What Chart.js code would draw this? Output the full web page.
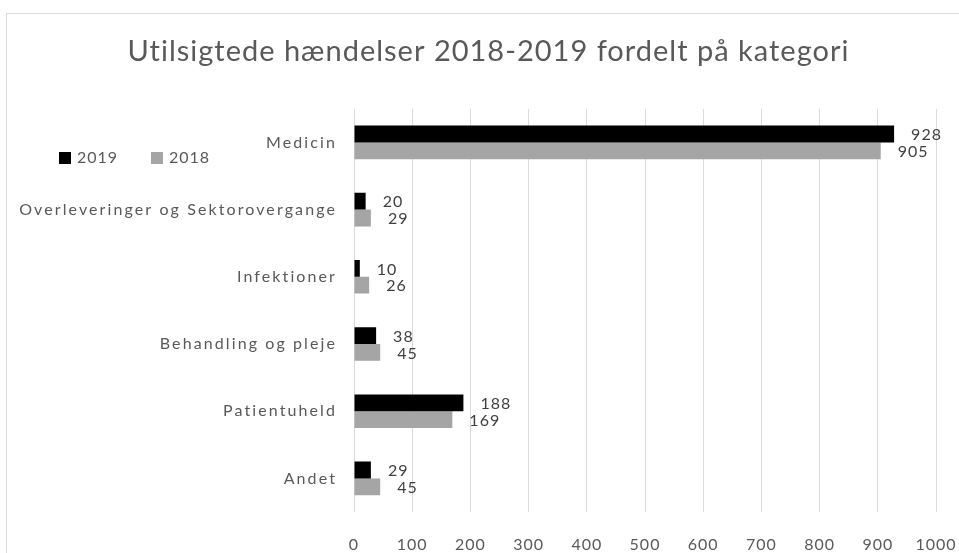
<!DOCTYPE html>
<html>
<head>
<meta charset="utf-8">
<script src="https://cdn.jsdelivr.net/npm/chart.js@4"></script>
<style>
  body { margin: 0; background: #fff; }
  #wrap { width: 959px; height: 553px; position: relative; }
</style>
</head>
<body>
<div id="wrap"><canvas id="kategoriChart" width="959" height="553"></canvas></div>
<script>
// data
const kategorier = ["Medicin", "Overleveringer og Sektorovergange", "Infektioner", "Behandling og pleje", "Patientuheld", "Andet"];
const vaerdier2019 = [928, 20, 10, 38, 188, 29];
const vaerdier2018 = [905, 29, 26, 45, 169, 45];
const xTicks = [0, 100, 200, 300, 400, 500, 600, 700, 800, 900, 1000];

const tekstFarve = "#595959";

// letter spacing like the Excel rendering
const spacing = {
  id: "spacing",
  beforeUpdate(chart) { chart.ctx.letterSpacing = "1px"; },
  beforeDraw(chart) {
    const ctx = chart.ctx;
    ctx.letterSpacing = "1px";
    // frame of the chart object
    ctx.save();
    ctx.strokeStyle = "#d9d9d9";
    ctx.lineWidth = 1;
    ctx.strokeRect(6.5, 13.5, 1000, 600);
    ctx.restore();
  }
};

// value labels at the end of each bar
const barLabels = {
  id: "barLabels",
  afterDatasetsDraw(chart) {
    const ctx = chart.ctx;
    ctx.save();
    ctx.letterSpacing = "1px";
    ctx.font = "16px Lato";
    ctx.fillStyle = "#404040";
    ctx.textAlign = "left";
    ctx.textBaseline = "middle";
    chart.data.datasets.forEach((ds, i) => {
      chart.getDatasetMeta(i).data.forEach((bar, j) => {
        ctx.fillText(ds.data[j], bar.x + 17, bar.y + 1);
      });
    });
    ctx.restore();
  }
};

// legend at the left, like the original
const venstreLegend = {
  id: "venstreLegend",
  afterDraw(chart) {
    const ctx = chart.ctx;
    ctx.save();
    ctx.letterSpacing = "1px";
    ctx.font = "16px Lato";
    ctx.textBaseline = "middle";
    ctx.textAlign = "left";
    const pos = [59, 151];
    chart.data.datasets.forEach((ds, i) => {
      ctx.fillStyle = ds.backgroundColor;
      ctx.fillRect(pos[i], 152, 12, 12);
      ctx.fillStyle = tekstFarve;
      ctx.fillText(ds.label, pos[i] + 18, 158);
    });
    ctx.restore();
  }
};

// wider spacing for the category names
const yLabels = {
  id: "yLabels",
  afterDraw(chart) {
    const ctx = chart.ctx;
    const y = chart.scales.y;
    ctx.save();
    ctx.letterSpacing = "2.1px";
    ctx.font = "16px Lato";
    ctx.fillStyle = tekstFarve;
    ctx.textAlign = "right";
    ctx.textBaseline = "middle";
    kategorier.forEach((k, i) => {
      ctx.fillText(k, chart.chartArea.left - 17, y.getPixelForValue(i));
    });
    ctx.restore();
  }
};

new Chart(document.getElementById("kategoriChart"), {
  type: "bar",
  data: {
    labels: kategorier,
    datasets: [
      { label: "2019", data: vaerdier2019, backgroundColor: "#000000" },
      { label: "2018", data: vaerdier2018, backgroundColor: "#a5a5a5" }
    ]
  },
  options: {
    indexAxis: "y",
    responsive: false,
    animation: false,
    layout: { padding: { left: 20, right: 2, top: 20, bottom: 3 } },
    datasets: { bar: { barPercentage: 1, categoryPercentage: 0.5 } },
    plugins: {
      legend: { display: false },
      tooltip: { enabled: false },
      title: {
        display: true,
        text: "Utilsigtede hændelser 2018-2019 fordelt på kategori",
        color: tekstFarve,
        font: { family: "Lato", size: 29, weight: "normal" },
        padding: { top: 14, bottom: 40 }
      }
    },
    scales: {
      x: {
        min: 0,
        max: 1000,
        afterBuildTicks(scale) { scale.ticks = xTicks.map(v => ({ value: v })); },
        afterFit(scale) {
          scale.height = 38;
          scale.paddingRight = 23;
          scale.paddingLeft = 0;
        },
        grid: { color: "#d9d9d9", drawTicks: false },
        border: { display: false },
        ticks: {
          color: tekstFarve,
          font: { family: "Lato", size: 16 },
          padding: 23,
          maxRotation: 0,
          callback: v => String(v)
        }
      },
      y: {
        afterFit(scale) { scale.width = 334; },
        grid: { display: false, drawTicks: false },
        border: { display: false },
        ticks: { display: false }
      }
    }
  },
  plugins: [spacing, barLabels, venstreLegend, yLabels]
});
</script>
</body>
</html>
